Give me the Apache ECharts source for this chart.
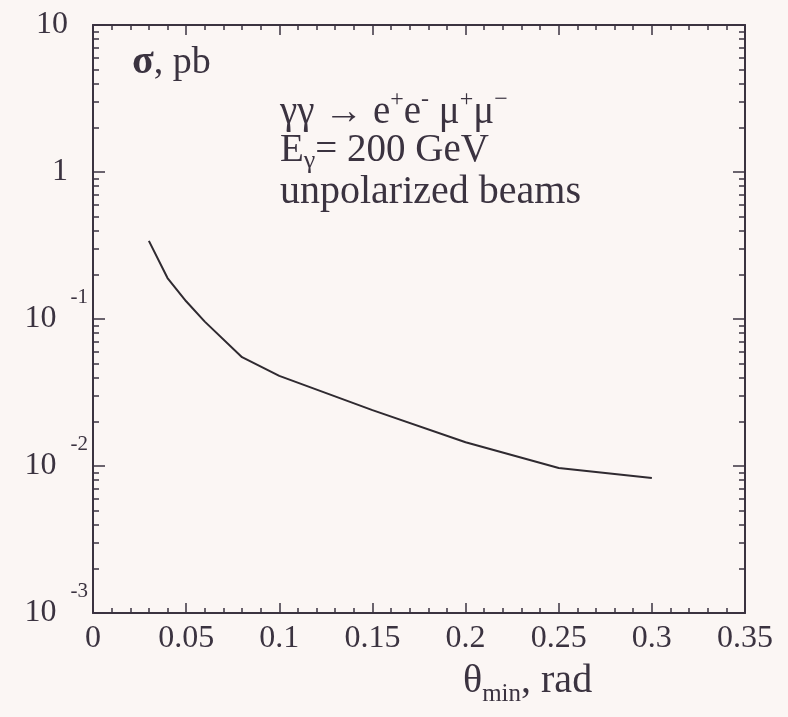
<!DOCTYPE html>
<html>
<head>
<meta charset="utf-8">
<script src="https://cdn.jsdelivr.net/npm/echarts@6/dist/echarts.min.js"></script>
<style>
  html, body { margin: 0; padding: 0; background: #fbf6f4; }
  #chart { width: 788px; height: 717px; }
</style>
</head>
<body>
<div id="chart"></div>
<script>
// theta_min (rad) and cross section (pb)
var thetaValues = [0.03, 0.04, 0.05, 0.06, 0.08, 0.1, 0.15, 0.2, 0.25, 0.3];
var sigmaValues = [0.34, 0.19, 0.132, 0.096, 0.055, 0.041, 0.024, 0.0145, 0.0097, 0.0083];
var decades = [-3, -2, -1, 0];   // 10^-3 .. 10^0, minor ticks 2..9 inside each

var ink = '#3b3340';
var serif = '"Liberation Serif", "DejaVu Serif", serif';
var plotRect = { left: 93, right: 43, top: 25, bottom: 104 };

var chart = echarts.init(document.getElementById('chart'));

var points = thetaValues.map(function (t, i) { return [t, sigmaValues[i]]; });

// log10 positions of the minor ticks 2..9 x 10^n
var minorLog = [];
decades.forEach(function (d) {
    for (var k = 2; k <= 9; k++) minorLog.push(d + Math.log10(k));
});

function xAxisDef(pos, showLabel) {
    return {
        type: 'value',
        gridIndex: 0,
        position: pos,
        min: 0,
        max: 0.35,
        interval: 0.05,
        axisLine: { show: true, onZero: false, lineStyle: { color: ink, width: 2 } },
        axisTick: { show: true, inside: true, length: 10, lineStyle: { color: ink, width: 1.5 } },
        minorTick: { show: true, splitNumber: 5, length: 5, lineStyle: { color: ink, width: 1.5 } },
        splitLine: { show: false },
        axisLabel: {
            show: showLabel,
            margin: 10,
            color: ink,
            fontFamily: serif,
            fontSize: 32
        }
    };
}

function yAxisDef(pos, showLabel) {
    return {
        type: 'log',
        logBase: 10,
        gridIndex: 0,
        position: pos,
        min: 0.001,
        max: 10,
        axisLine: { show: true, onZero: false, lineStyle: { color: ink, width: 2 } },
        axisTick: { show: true, inside: true, length: 12, lineStyle: { color: ink, width: 1.5 } },
        splitLine: { show: false },
        axisLabel: {
            show: showLabel,
            margin: 5,
            color: ink,
            fontFamily: serif,
            formatter: function (v) {
                var e = Math.round(Math.log10(v));
                if (e === 1) return '{a|10}';
                if (e === 0) return '{a|1}';
                return '{b|10}{s|' + e + '}';
            },
            rich: {
                a: { fontSize: 32, fontFamily: serif, color: ink, padding: [0, 20, 0, 0] },
                b: { fontSize: 32, fontFamily: serif, color: ink },
                s: { fontSize: 21, fontFamily: serif, color: ink, padding: [0, 0, 44, 14] }
            }
        }
    };
}

// helper axis (second, overlapping grid) in log10 space carrying only the log-spaced minor ticks
function minorAxisDef(pos) {
    return {
        type: 'value',
        gridIndex: 1,
        position: pos,
        min: -3,
        max: 1,
        axisLine: { show: false },
        axisTick: { show: true, inside: true, length: 6, customValues: minorLog, lineStyle: { color: ink, width: 1.5 } },
        axisLabel: { show: false },
        splitLine: { show: false }
    };
}

chart.setOption({
    backgroundColor: '#fbf6f4',
    animation: false,
    grid: [plotRect, plotRect],
    xAxis: [
        xAxisDef('bottom', true),
        xAxisDef('top', false),
        { type: 'value', gridIndex: 1, min: 0, max: 0.35, show: false }
    ],
    yAxis: [yAxisDef('left', true), yAxisDef('right', false), minorAxisDef('left'), minorAxisDef('right')],
    graphic: [
        {
            type: 'text', left: 132, top: 43,
            style: {
                text: '{g|σ}{n|, pb}',
                rich: {
                    g: { fontSize: 40, fontWeight: 'bold', fontFamily: serif, fill: ink },
                    n: { fontSize: 38, fontFamily: serif, fill: ink }
                }
            }
        },
        {
            type: 'text', left: 280, top: 88,
            style: {
                text: '{n|γγ → e}{p|+}{n|e}{p|-}{n| μ}{p|+}{n|μ}{p|−}',
                rich: {
                    n: { fontSize: 39, fontFamily: serif, fill: ink },
                    p: { fontSize: 24, fontFamily: serif, fill: ink, padding: [0, 0, 26, 0] }
                }
            }
        },
        {
            type: 'text', left: 280, top: 131,
            style: {
                text: '{n|E}{b|γ}{n|= 200 GeV}',
                rich: {
                    n: { fontSize: 39, fontFamily: serif, fill: ink },
                    b: { fontSize: 26, fontFamily: serif, fill: ink, padding: [22, 0, 0, 0] }
                }
            }
        },
        {
            type: 'text', left: 280, top: 172,
            style: {
                text: 'unpolarized beams',
                fontSize: 40, fontFamily: serif, fill: ink
            }
        },
        {
            type: 'text', left: 463, top: 661,
            style: {
                text: '{n|θ}{b|min}{n|, rad}',
                rich: {
                    n: { fontSize: 40, fontFamily: serif, fill: ink },
                    b: { fontSize: 25, fontFamily: serif, fill: ink, padding: [27, 0, 0, 0] }
                }
            }
        }
    ],
    series: [{
        type: 'line',
        xAxisIndex: 0,
        yAxisIndex: 0,
        data: points,
        symbol: 'none',
        smooth: false,
        lineStyle: { color: '#2f2a30', width: 2 }
    }]
});
</script>
</body>
</html>
